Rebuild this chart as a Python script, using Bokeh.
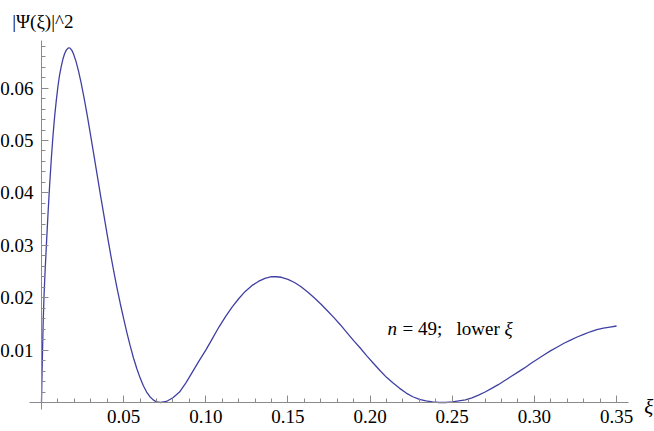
from bokeh.plotting import figure
from bokeh.models import FixedTicker, Label, Range1d
from bokeh.embed import file_html
from bokeh.resources import INLINE

# data
xi = [0, 0.0002, 0.0005, 0.001, 0.0015, 0.002, 0.003, 0.004, 0.005, 0.006, 0.007,
      0.008, 0.009, 0.010, 0.011, 0.012, 0.013, 0.014, 0.015, 0.016, 0.0168, 0.0175,
      0.0185, 0.0195, 0.021, 0.0225, 0.024, 0.026, 0.028, 0.030, 0.032, 0.034, 0.036,
      0.038, 0.040, 0.042, 0.044, 0.046, 0.048, 0.050, 0.052, 0.054, 0.056, 0.058,
      0.060, 0.062, 0.064, 0.066, 0.068, 0.070, 0.0725,
      0.076, 0.080, 0.084, 0.088, 0.092, 0.096, 0.100, 0.104, 0.108, 0.112, 0.116,
      0.120, 0.124, 0.128, 0.132, 0.136, 0.140, 0.143, 0.146, 0.150, 0.154, 0.158,
      0.162, 0.166, 0.170, 0.174, 0.178, 0.182, 0.186, 0.190, 0.194, 0.198, 0.202,
      0.206, 0.210, 0.214, 0.218, 0.222, 0.226, 0.230, 0.234, 0.238, 0.242, 0.246,
      0.250, 0.254, 0.258, 0.262, 0.266, 0.270, 0.274, 0.278, 0.282, 0.286, 0.290,
      0.294, 0.298, 0.302, 0.306, 0.310, 0.314, 0.318, 0.322, 0.326, 0.330, 0.334,
      0.338, 0.342, 0.346, 0.350]
psi2 = [0, 0.0035, 0.0080, 0.0150, 0.0200, 0.0238, 0.0302, 0.0362, 0.0417, 0.0466, 0.0509,
        0.0546, 0.0576, 0.0603, 0.0625, 0.0641, 0.0655, 0.0665, 0.0672, 0.0676, 0.0677, 0.0676,
        0.0672, 0.0665, 0.0651, 0.0633, 0.0612, 0.0580, 0.0545, 0.0508, 0.0470, 0.0432, 0.0394,
        0.0357, 0.0320, 0.0284, 0.0250, 0.0218, 0.0188, 0.0160, 0.0133, 0.0108, 0.0085, 0.0065,
        0.0047, 0.0032, 0.0020, 0.0011, 0.0005, 0.0001, 0.0,
        0.0002, 0.0009, 0.0020, 0.0038, 0.0059, 0.0080, 0.0100, 0.0122, 0.0144, 0.0164, 0.0182,
        0.0198, 0.0212, 0.0223, 0.0231, 0.0237, 0.0240, 0.0240, 0.0239, 0.0235, 0.0229, 0.0221,
        0.0211, 0.0200, 0.0188, 0.0175, 0.0162, 0.0148, 0.0133, 0.0118, 0.0104, 0.0089, 0.0075,
        0.0061, 0.0048, 0.0037, 0.0027, 0.0018, 0.0011, 0.0006, 0.0003, 0.0001, 0.0, 0.0,
        0.0001, 0.0003, 0.0005, 0.0009, 0.0014, 0.0020, 0.0027, 0.0034, 0.0042, 0.0050, 0.0058,
        0.0066, 0.0075, 0.0083, 0.0091, 0.0099, 0.0106, 0.0113, 0.0119, 0.0125, 0.0130, 0.0135,
        0.0139, 0.0142, 0.0144, 0.0146]

x_major = [0.05, 0.10, 0.15, 0.20, 0.25, 0.30, 0.35]
x_labels = ["0.05", "0.10", "0.15", "0.20", "0.25", "0.30", "0.35"]
y_major = [0.01, 0.02, 0.03, 0.04, 0.05, 0.06]
y_labels = ["0.01", "0.02", "0.03", "0.04", "0.05", "0.06"]
x_minor = [i / 100 for i in range(1, 36)]
y_minor = [i / 500 for i in range(1, 35)]

FONT = "Liberation Serif"
AXIS_COLOR = "#8a8a8a"

p = figure(width=654, height=430, output_backend="svg", toolbar_location=None,
           x_range=Range1d(-0.02495, 0.37310), y_range=Range1d(-0.005344, 0.076718),
           min_border=0)
p.background_fill_color = "white"
p.border_fill_color = "white"
p.outline_line_color = None
p.grid.visible = False

p.line(xi, psi2, line_color="#4040a4", line_width=1.3)

for ax, majors, minors, labels, bounds in ((p.xaxis[0], x_major, x_minor, x_labels, (-0.0075, 0.357)),
                                           (p.yaxis[0], y_major, y_minor, y_labels, (-0.0013, 0.0691))):
    ax.fixed_location = 0
    ax.bounds = bounds
    ax.ticker = FixedTicker(ticks=majors, minor_ticks=minors)
    ax.major_label_overrides = {m: l for m, l in zip(majors, labels)}
    ax.axis_line_color = AXIS_COLOR
    ax.major_tick_line_color = AXIS_COLOR
    ax.minor_tick_line_color = AXIS_COLOR
    ax.major_tick_in = 7
    ax.major_tick_out = 0
    ax.minor_tick_in = 4
    ax.minor_tick_out = 0
    ax.major_label_text_font = FONT
    ax.major_label_text_font_size = "19px"
    ax.major_label_text_color = "black"
p.xaxis.major_label_standoff = 8
p.yaxis.major_label_standoff = 8

def add_text(x, y, text, size="19px", style="normal", dx=0):
    p.add_layout(Label(x=x, y=y, x_offset=dx, text=text, text_font=FONT, text_font_style=style,
                       text_font_size=size, text_color="black",
                       text_baseline="alphabetic", text_align="left"))

add_text(-0.0178, 0.0727, "|Ψ(ξ)|^2")
add_text(0.3668, -0.00095, "ξ", size="21px", style="italic")

ty = 0.0141
tx = 0.2106
add_text(tx, ty, "n", style="italic")
add_text(tx, ty, "= 49;", dx=15)
add_text(tx, ty, "lower", dx=69)
add_text(tx, ty, "ξ", style="italic", dx=117)

open("out.html", "w").write(file_html(p, INLINE))
